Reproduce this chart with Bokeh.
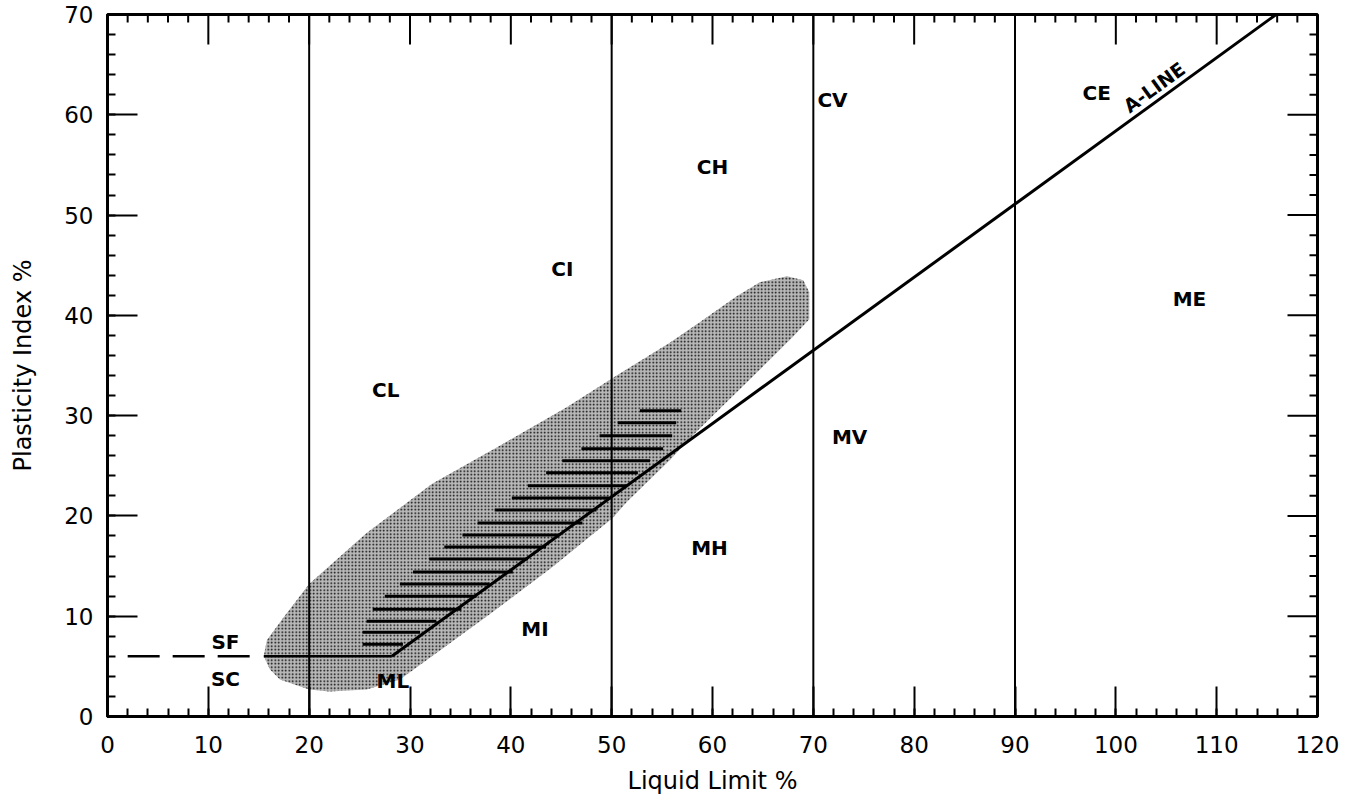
import math
from bokeh.plotting import figure
from bokeh.models import Range1d, LinearAxis, SingleIntervalTicker, ColumnDataSource
from bokeh.core.properties import value
from bokeh.embed import file_html
from bokeh.resources import INLINE

# ---------------- data ----------------
x_major_ticks = list(range(0, 121, 10))
y_major_ticks = list(range(0, 71, 10))
x_minor_ticks = [v for v in range(0, 121, 2) if v % 10]
y_minor_ticks = [v for v in range(0, 71, 2) if v % 10]

divider_ll = [20, 50, 70, 90]           # vertical boundary lines (liquid limit)

a_line_x = [28.2, 115.9]                # A-line end points
a_line_y = [6.0, 70.0]

solid_h_x = [15.5, 28.2]                # solid horizontal line at PI = 6
solid_h_y = [6.0, 6.0]
dash_h_x = [2.0, 14.1]                  # dashed horizontal line at PI = 6
dash_h_y = [6.0, 6.0]

zone_labels = ["CL", "CI", "CH", "CV", "CE", "ME", "MV", "MH", "MI", "ML", "SF", "SC"]
zone_x = [27.6, 45.1, 60.0, 71.9, 98.1, 107.3, 73.6, 59.7, 42.4, 28.3, 11.7, 11.7]
zone_y = [32.6, 44.6, 54.8, 61.5, 62.2, 41.6, 27.9, 16.8, 8.7, 3.5, 7.4, 3.7]

aline_label = ["A-LINE"]
aline_label_x = [103.8]
aline_label_y = [62.75]

# stippled zone outline
region_x = [15.5, 15.8, 17.4, 20.0, 25.7, 32.2, 38.9, 45.5, 50.5, 55.8, 58.7, 62.4,
            64.7, 67.4, 69.0, 69.6, 69.6, 68.0, 65.4, 58.0, 55.8, 51.5, 50.1, 44.0, 37.9,
            33.0, 29.0, 25.7, 22.0, 20.0, 17.1, 16.1]
region_y = [6.0, 7.6, 9.8, 13.2, 18.3, 23.2, 27.0, 30.8, 34.0, 37.3, 39.3, 41.9,
            43.3, 43.9, 43.5, 42.3, 39.6, 37.9, 35.3, 28.0, 25.6, 21.4, 19.8, 14.8, 10.2,
            6.6, 3.7, 2.7, 2.5, 2.7, 3.7, 4.7]

# hatched band (horizontal lines)
hatch_y = [7.2, 8.4, 9.5, 10.7, 12.0, 13.2, 14.4, 15.7, 16.9, 18.1,
           19.3, 20.6, 21.8, 23.0, 24.3, 25.5, 26.7, 28.0, 29.3, 30.5]
hatch_x0 = [25.3, 25.3, 25.7, 26.3, 27.5, 29.0, 30.3, 31.9, 33.4, 35.2,
            36.7, 38.4, 40.1, 41.7, 43.5, 45.1, 47.0, 48.8, 50.6, 52.8]
hatch_x1 = [29.3, 31.0, 32.6, 35.1, 36.6, 37.9, 40.2, 41.7, 43.5, 44.8,
            47.1, 48.5, 49.8, 51.5, 52.6, 53.8, 55.1, 56.0, 56.4, 56.9]

# ---------------- figure ----------------
FONT = "DejaVu Sans"
X0, X1, Y0, Y1 = 0, 120, 0, 70

p = figure(frame_width=1210, frame_height=702, output_backend="svg", toolbar_location=None,
           x_range=Range1d(X0, X1), y_range=Range1d(Y0, Y1),
           x_axis_location=None, y_axis_location=None,
           min_border_left=107, min_border_right=30, min_border_top=14, min_border_bottom=84)
p.grid.visible = False
p.outline_line_color = "black"
p.outline_line_width = 3
p.background_fill_color = "white"
p.border_fill_color = "white"


def make_axis(step, label):
    ax = LinearAxis(ticker=SingleIntervalTicker(interval=step, num_minor_ticks=5))
    ax.axis_line_width = 3
    ax.axis_line_color = "black"
    ax.major_tick_in = 30
    ax.major_tick_out = 0
    ax.minor_tick_in = 8
    ax.minor_tick_out = 0
    ax.major_tick_line_width = 2
    ax.minor_tick_line_width = 2
    ax.major_tick_line_color = "black"
    ax.minor_tick_line_color = "black"
    ax.major_label_text_font = FONT
    ax.major_label_text_font_size = "23px"
    ax.major_label_text_color = "black"
    ax.axis_label = label
    ax.axis_label_text_font = FONT
    ax.axis_label_text_font_size = "24px"
    ax.axis_label_text_font_style = "normal"
    ax.axis_label_text_color = "black"
    return ax


xb = make_axis(10, "Liquid Limit %")
xb.major_label_standoff = 19
xb.axis_label_standoff = 11
p.add_layout(xb, "below")

yl = make_axis(10, "Plasticity Index %")
yl.major_label_standoff = 14
yl.axis_label_standoff = 24
p.add_layout(yl, "left")

# mirrored ticks on the top and right edges (inward, screen-length rays)
p.ray(x=x_major_ticks, y=[Y1] * len(x_major_ticks), length=30, length_units="screen",
      angle=-math.pi / 2, line_color="black", line_width=2)
p.ray(x=x_minor_ticks, y=[Y1] * len(x_minor_ticks), length=8, length_units="screen",
      angle=-math.pi / 2, line_color="black", line_width=2)
p.ray(x=[X1] * len(y_major_ticks), y=y_major_ticks, length=30, length_units="screen",
      angle=math.pi, line_color="black", line_width=2)
p.ray(x=[X1] * len(y_minor_ticks), y=y_minor_ticks, length=8, length_units="screen",
      angle=math.pi, line_color="black", line_width=2)

# stippled zone
p.patch(region_x, region_y, fill_color="#b8b8b8", line_color=None,
        hatch_pattern="dot", hatch_color="black", hatch_scale=3.5, hatch_weight=1.3)

# vertical dividers
p.segment(x0=divider_ll, y0=[Y0] * len(divider_ll), x1=divider_ll, y1=[Y1] * len(divider_ll),
          line_color="black", line_width=2)

# hatched lines
p.segment(x0=hatch_x0, y0=hatch_y, x1=hatch_x1, y1=hatch_y, line_color="black", line_width=3)

# horizontal lines at PI=6
p.line(solid_h_x, solid_h_y, line_color="black", line_width=2.5)
p.line(dash_h_x, dash_h_y, line_color="black", line_width=2.5, line_dash="32 13")

# A-line
p.line(a_line_x, a_line_y, line_color="black", line_width=3)

# zone labels
src = ColumnDataSource(dict(x=zone_x, y=zone_y, t=zone_labels))
p.text(x="x", y="y", text="t", source=src, text_font=value(FONT), text_font_size="20px",
       text_font_style="bold", text_align="center", text_baseline="middle", text_color="black")

p.text(x=aline_label_x, y=aline_label_y, text=aline_label, angle=0.628,
       text_font=value(FONT), text_font_size="19px", text_font_style="bold",
       text_align="center", text_baseline="middle", text_color="black")

open("out.html", "w").write(file_html(p, INLINE))
